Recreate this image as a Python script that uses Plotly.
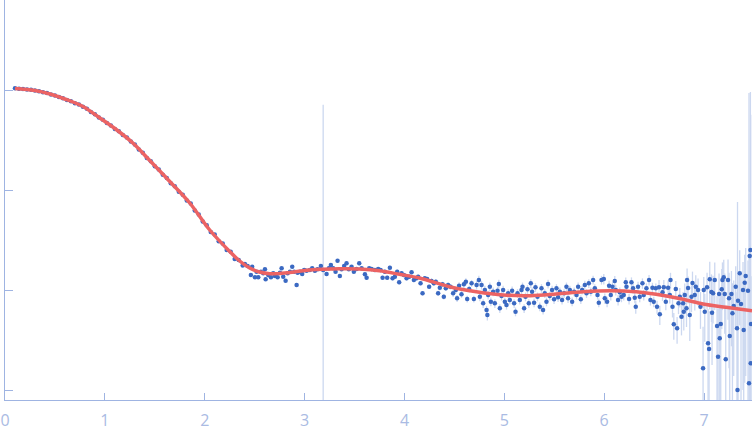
import numpy as np
import plotly.graph_objects as go

# scattering curve (q, log10 I, relative error)

q_low = [
    0.10, 0.14, 0.18, 0.22, 0.26, 0.30, 0.34, 0.38, 0.42, 0.46,
    0.50, 0.54, 0.58, 0.62, 0.66, 0.70, 0.74, 0.78, 0.82, 0.86,
    0.90, 0.94, 0.98, 1.02, 1.06, 1.10, 1.14, 1.18, 1.22, 1.26,
    1.30, 1.34, 1.38, 1.42, 1.46, 1.50, 1.54, 1.58, 1.62, 1.66,
    1.70, 1.74, 1.78, 1.82, 1.86, 1.90, 1.94, 1.98, 2.02, 2.06,
    2.10, 2.14, 2.18, 2.22, 2.26, 2.30, 2.34, 2.38]
logi_low = [
    0.018, 0.012, 0.011, 0.005, 0.003, -0.005, -0.012, -0.023, -0.031, -0.044,
    -0.055, -0.071, -0.082, -0.100, -0.113, -0.133, -0.146, -0.168, -0.188, -0.219,
    -0.242, -0.275, -0.298, -0.331, -0.355, -0.389, -0.412, -0.449, -0.475, -0.516,
    -0.546, -0.594, -0.628, -0.679, -0.712, -0.763, -0.796, -0.848, -0.879, -0.932,
    -0.962, -1.018, -1.048, -1.106, -1.136, -1.204, -1.245, -1.315, -1.352, -1.420,
    -1.446, -1.512, -1.535, -1.600, -1.618, -1.690, -1.700, -1.755]
err_low = [
    0.006, 0.006, 0.006, 0.006, 0.006, 0.006, 0.006, 0.006, 0.006, 0.006,
    0.006, 0.006, 0.006, 0.006, 0.006, 0.006, 0.006, 0.006, 0.006, 0.006,
    0.006, 0.006, 0.006, 0.006, 0.006, 0.006, 0.006, 0.006, 0.006, 0.006,
    0.008, 0.008, 0.008, 0.008, 0.008, 0.008, 0.008, 0.008, 0.008, 0.008,
    0.010, 0.010, 0.010, 0.010, 0.010, 0.010, 0.010, 0.010, 0.010, 0.010,
    0.015, 0.015, 0.015, 0.015, 0.015, 0.020, 0.020, 0.020]

q_mid = [
    2.402, 2.429, 2.462, 2.475, 2.503, 2.519, 2.536, 2.563, 2.586, 2.603,
    2.610, 2.636, 2.663, 2.686, 2.703, 2.730, 2.753, 2.770, 2.786, 2.810,
    2.830, 2.853, 2.876, 2.896, 2.920, 2.930, 2.953, 2.976, 2.996, 3.020,
    3.053, 3.076, 3.103, 3.130, 3.163, 3.186, 3.220, 3.243, 3.263, 3.286,
    3.310, 3.330, 3.353, 3.370, 3.396, 3.420, 3.443, 3.470, 3.493, 3.521,
    3.547, 3.571, 3.604, 3.621, 3.647, 3.671, 3.704, 3.737, 3.761, 3.781,
    3.804, 3.827, 3.854, 3.881, 3.904, 3.927, 3.947, 3.971, 3.994, 4.021,
    4.047, 4.071, 4.094, 4.121, 4.137, 4.161, 4.181, 4.204, 4.227, 4.247,
    4.271, 4.294, 4.314, 4.337, 4.354, 4.381, 4.394, 4.414, 4.437, 4.461,
    4.487, 4.514, 4.527, 4.547, 4.571, 4.595, 4.615, 4.628, 4.648, 4.672,
    4.695]
logi_mid = [
    -1.740, -1.760, -1.850, -1.767, -1.873, -1.817, -1.873, -1.817, -1.833, -1.793,
    -1.893, -1.850, -1.873, -1.833, -1.860, -1.873, -1.827, -1.783, -1.867, -1.907,
    -1.833, -1.817, -1.767, -1.817, -1.950, -1.827, -1.817, -1.840, -1.800, -1.807,
    -1.800, -1.783, -1.807, -1.793, -1.760, -1.800, -1.840, -1.783, -1.750, -1.783,
    -1.817, -1.707, -1.860, -1.793, -1.760, -1.733, -1.793, -1.767, -1.817, -1.790,
    -1.733, -1.783, -1.843, -1.877, -1.783, -1.790, -1.800, -1.790, -1.800, -1.877,
    -1.817, -1.877, -1.777, -1.883, -1.867, -1.817, -1.923, -1.833, -1.850, -1.883,
    -1.867, -1.823, -1.900, -1.883, -1.867, -1.933, -2.033, -1.883, -1.890, -1.967,
    -1.910, -1.933, -1.917, -2.033, -1.977, -1.943, -2.067, -1.983, -1.950, -1.967,
    -2.033, -2.000, -2.083, -1.957, -2.043, -1.943, -1.917, -2.090, -1.990, -1.933,
    -2.090]
err_mid = [
    0.04, 0.04, 0.04, 0.04, 0.04, 0.04, 0.04, 0.04, 0.04, 0.04,
    0.04, 0.04, 0.04, 0.04, 0.04, 0.04, 0.04, 0.04, 0.04, 0.04,
    0.04, 0.04, 0.04, 0.04, 0.04, 0.04, 0.04, 0.04, 0.04, 0.04,
    0.04, 0.04, 0.04, 0.04, 0.04, 44.0, 0.04, 0.04, 0.04, 0.04,
    0.04, 0.04, 0.04, 0.04, 0.04, 0.04, 0.04, 0.04, 0.04, 0.04,
    0.05, 0.05, 0.05, 0.05, 0.05, 0.05, 0.05, 0.05, 0.05, 0.05,
    0.05, 0.05, 0.05, 0.05, 0.05, 0.05, 0.05, 0.05, 0.05, 0.05,
    0.05, 0.05, 0.05, 0.05, 0.05, 0.05, 0.05, 0.05, 0.05, 0.05,
    0.06, 0.06, 0.06, 0.06, 0.06, 0.06, 0.06, 0.06, 0.06, 0.06,
    0.08, 0.08, 0.08, 0.08, 0.08, 0.08, 0.08, 0.08, 0.08, 0.08,
    0.08]

q_high = [
    4.722, 4.745, 4.755, 4.772, 4.788, 4.805, 4.822, 4.830, 4.838, 4.855,
    4.865, 4.888, 4.905, 4.932, 4.945, 4.955, 4.972, 4.988, 5.005, 5.022,
    5.038, 5.055, 5.078, 5.098, 5.112, 5.132, 5.155, 5.172, 5.182, 5.198,
    5.212, 5.232, 5.245, 5.265, 5.278, 5.298, 5.312, 5.332, 5.355, 5.372,
    5.388, 5.405, 5.422, 5.438, 5.455, 5.478, 5.498, 5.522, 5.538, 5.556,
    5.578, 5.598, 5.622, 5.638, 5.656, 5.679, 5.699, 5.723, 5.739, 5.766,
    5.779, 5.806, 5.823, 5.846, 5.866, 5.889, 5.906, 5.933, 5.946, 5.973,
    5.996, 6.006, 6.029, 6.049, 6.066, 6.083, 6.106, 6.116, 6.139, 6.156,
    6.173, 6.196, 6.216, 6.223, 6.249, 6.273, 6.289, 6.306, 6.316, 6.339,
    6.356, 6.383, 6.396, 6.423, 6.449, 6.463, 6.483, 6.496, 6.517, 6.529,
    6.549, 6.557, 6.584, 6.597, 6.617, 6.640, 6.657, 6.664, 6.684, 6.697,
    6.717, 6.730, 6.744, 6.757]
logi_high = [
    -1.950, -1.900, -2.067, -1.950, -2.133, -2.000, -2.200, -2.250, -2.050, -1.967,
    -2.117, -2.017, -2.133, -2.007, -1.940, -2.183, -2.060, -2.000, -2.117, -2.150,
    -2.033, -2.100, -2.007, -2.133, -2.217, -2.033, -2.100, -2.000, -1.967, -2.183,
    -2.067, -1.993, -2.133, -1.933, -2.017, -2.127, -1.973, -2.067, -2.167, -1.983,
    -2.200, -2.033, -2.117, -1.940, -2.060, -2.000, -2.093, -1.983, -2.073, -2.017,
    -2.100, -2.033, -1.967, -2.083, -2.000, -2.117, -2.017, -2.050, -1.967, -2.093,
    -2.000, -1.950, -2.033, -1.933, -2.017, -1.900, -1.983, -2.050, -2.127, -1.900,
    -1.890, -2.083, -2.117, -1.957, -2.050, -1.967, -1.910, -2.000, -2.100, -2.023,
    -2.067, -2.050, -1.923, -1.967, -2.090, -1.923, -1.983, -2.077, -2.167, -1.967,
    -2.067, -1.933, -2.050, -1.983, -1.900, -2.100, -1.977, -2.117, -1.983, -2.167,
    -1.973, -2.243, -2.023, -1.973, -2.117, -1.977, -2.050, -1.900, -2.167, -2.343,
    -1.990, -2.383, -2.133, -2.067]
err_high = [
    0.10, 0.10, 0.10, 0.10, 0.10, 0.10, 0.10, 0.12, 0.10, 0.10,
    0.10, 0.10, 0.10, 0.10, 0.10, 0.10, 0.10, 0.10, 0.10, 0.10,
    0.10, 0.10, 0.10, 0.10, 0.10, 0.10, 0.10, 0.10, 0.10, 0.10,
    0.10, 0.10, 0.10, 0.10, 0.10, 0.10, 0.10, 0.10, 0.10, 0.10,
    0.10, 0.10, 0.10, 0.10, 0.10, 0.10, 0.10, 0.10, 0.10, 0.10,
    0.10, 0.10, 0.10, 0.10, 0.10, 0.10, 0.10, 0.10, 0.10, 0.10,
    0.10, 0.10, 0.10, 0.10, 0.10, 0.10, 0.10, 0.10, 0.10, 0.10,
    0.12, 0.12, 0.12, 0.12, 0.12, 0.12, 0.12, 0.12, 0.12, 0.12,
    0.12, 0.12, 0.12, 0.12, 0.12, 0.12, 0.12, 0.12, 0.15, 0.12,
    0.12, 0.12, 0.12, 0.12, 0.12, 0.12, 0.12, 0.12, 0.12, 0.15,
    0.18, 0.22, 0.18, 0.18, 0.18, 0.18, 0.18, 0.18, 0.22, 0.30,
    0.20, 0.30, 0.22, 0.22]

q_tail = [
    6.774, 6.790, 6.797, 6.807, 6.824, 6.830, 6.840, 6.857, 6.874, 6.884,
    6.907, 6.917, 6.940, 6.964, 6.990, 6.997, 7.007, 7.030, 7.040, 7.050,
    7.057, 7.074, 7.080, 7.090, 7.107, 7.130, 7.140, 7.150, 7.157, 7.167,
    7.177, 7.184, 7.197, 7.207, 7.217, 7.240, 7.250, 7.257, 7.274, 7.284,
    7.297, 7.317, 7.330, 7.335, 7.340, 7.357, 7.370, 7.390, 7.397, 7.407,
    7.417, 7.440, 7.450, 7.457, 7.464, 7.467, 7.470]
logi_tail = [
    -2.267, -2.133, -2.217, -2.050, -2.183, -1.900, -1.980, -2.250, -2.067, -1.930,
    -2.050, -1.967, -2.000, -2.167, -2.783, -2.000, -2.217, -1.973, -2.533, -2.590,
    -1.893, -2.020, -2.227, -2.033, -1.900, -2.360, -2.667, -2.040, -2.483, -2.340,
    -1.993, -1.900, -1.873, -2.040, -2.693, -1.900, -2.083, -2.460, -2.040, -2.233,
    -2.160, -1.967, -2.383, -3.000, -2.107, -1.833, -2.140, -2.000, -2.400, -1.927,
    -1.860, -2.007, -2.933, -1.660, -1.600, -2.733, -2.340]
err_tail = [
    0.35, 0.30, 0.35, 0.30, 0.35, 0.30, 0.30, 0.45, 0.30, 0.30,
    0.30, 0.30, 0.30, 0.40, 1.60, 0.35, 0.50, 0.40, 1.20, 1.40,
    0.50, 0.50, 0.70, 0.50, 0.50, 1.00, 2.00, 0.60, 1.50, 1.00,
    0.60, 0.50, 0.50, 0.60, 2.20, 0.60, 0.80, 1.50, 0.70, 1.00,
    0.80, 0.60, 1.30, 75.0, 0.90, 0.70, 1.00, 0.90, 1.80, 0.90,
    0.90, 1.00, 800.0, 1.20, 37.0, 304.0, 2.00]

# fitted model curve
q_fit = [
    0.10, 0.30, 0.45, 0.60, 0.78, 0.95, 1.12, 1.28, 1.45, 1.65,
    1.85, 2.05, 2.25, 2.35, 2.45, 2.55, 2.65, 2.75, 2.88, 3.05,
    3.35, 3.55, 3.75, 3.95, 4.15, 4.45, 4.72, 4.99, 5.26, 5.52,
    5.79, 6.06, 6.32, 6.52, 6.79, 6.99, 7.22, 7.48]
logi_fit = [
    0.015, -0.005, -0.040, -0.090, -0.165, -0.280, -0.400, -0.530, -0.705, -0.915,
    -1.130, -1.400, -1.615, -1.710, -1.780, -1.820, -1.838, -1.835, -1.822, -1.800,
    -1.787, -1.790, -1.807, -1.843, -1.880, -1.967, -2.017, -2.050, -2.057, -2.040,
    -2.017, -2.007, -2.017, -2.043, -2.093, -2.140, -2.173, -2.207]

q = np.array(q_low + q_mid + q_high + q_tail)
intensity = 10 ** np.array(logi_low + logi_mid + logi_high + logi_tail)
sigma = intensity * np.array(err_low + err_mid + err_high + err_tail)

axis_color = "#9fb4e2"

fig = go.Figure()
fig.add_trace(go.Scatter(
    x=q, y=intensity, mode="markers",
    marker=dict(color="#3b69c2", size=4.5),
    error_y=dict(type="data", array=sigma, visible=True,
                 color="#ccd8f0", thickness=1.3, width=0),
    showlegend=False,
))
fig.add_trace(go.Scatter(
    x=q_fit, y=10 ** np.array(logi_fit), mode="lines",
    line=dict(color="#ec6363", width=3.5, shape="spline"),
    showlegend=False,
))

fig.update_layout(
    width=752, height=438,
    margin=dict(l=5, r=0, t=0, b=38),
    paper_bgcolor="white", plot_bgcolor="white",
    font=dict(family="Open Sans", size=16, color="#aabbe3"),
)
fig.update_xaxes(
    range=[0, 7.48], dtick=1, showgrid=False, zeroline=False,
    showline=True, linecolor=axis_color, linewidth=1, automargin=False,
    ticks="inside", ticklen=7, tickcolor=axis_color, ticklabelstandoff=6,
)
fig.update_yaxes(
    type="log", range=[-3.1, 0.9], dtick=1, showgrid=False, zeroline=False,
    showline=True, linecolor=axis_color, linewidth=1, automargin=False,
    ticks="inside", ticklen=8, tickcolor=axis_color, showticklabels=False,
)

# the page body has a default 8px margin; drop it so the figure fills the window
fig.write_html("out.html", config={"displayModeBar": False},
               post_script="document.body.style.margin='0';")
